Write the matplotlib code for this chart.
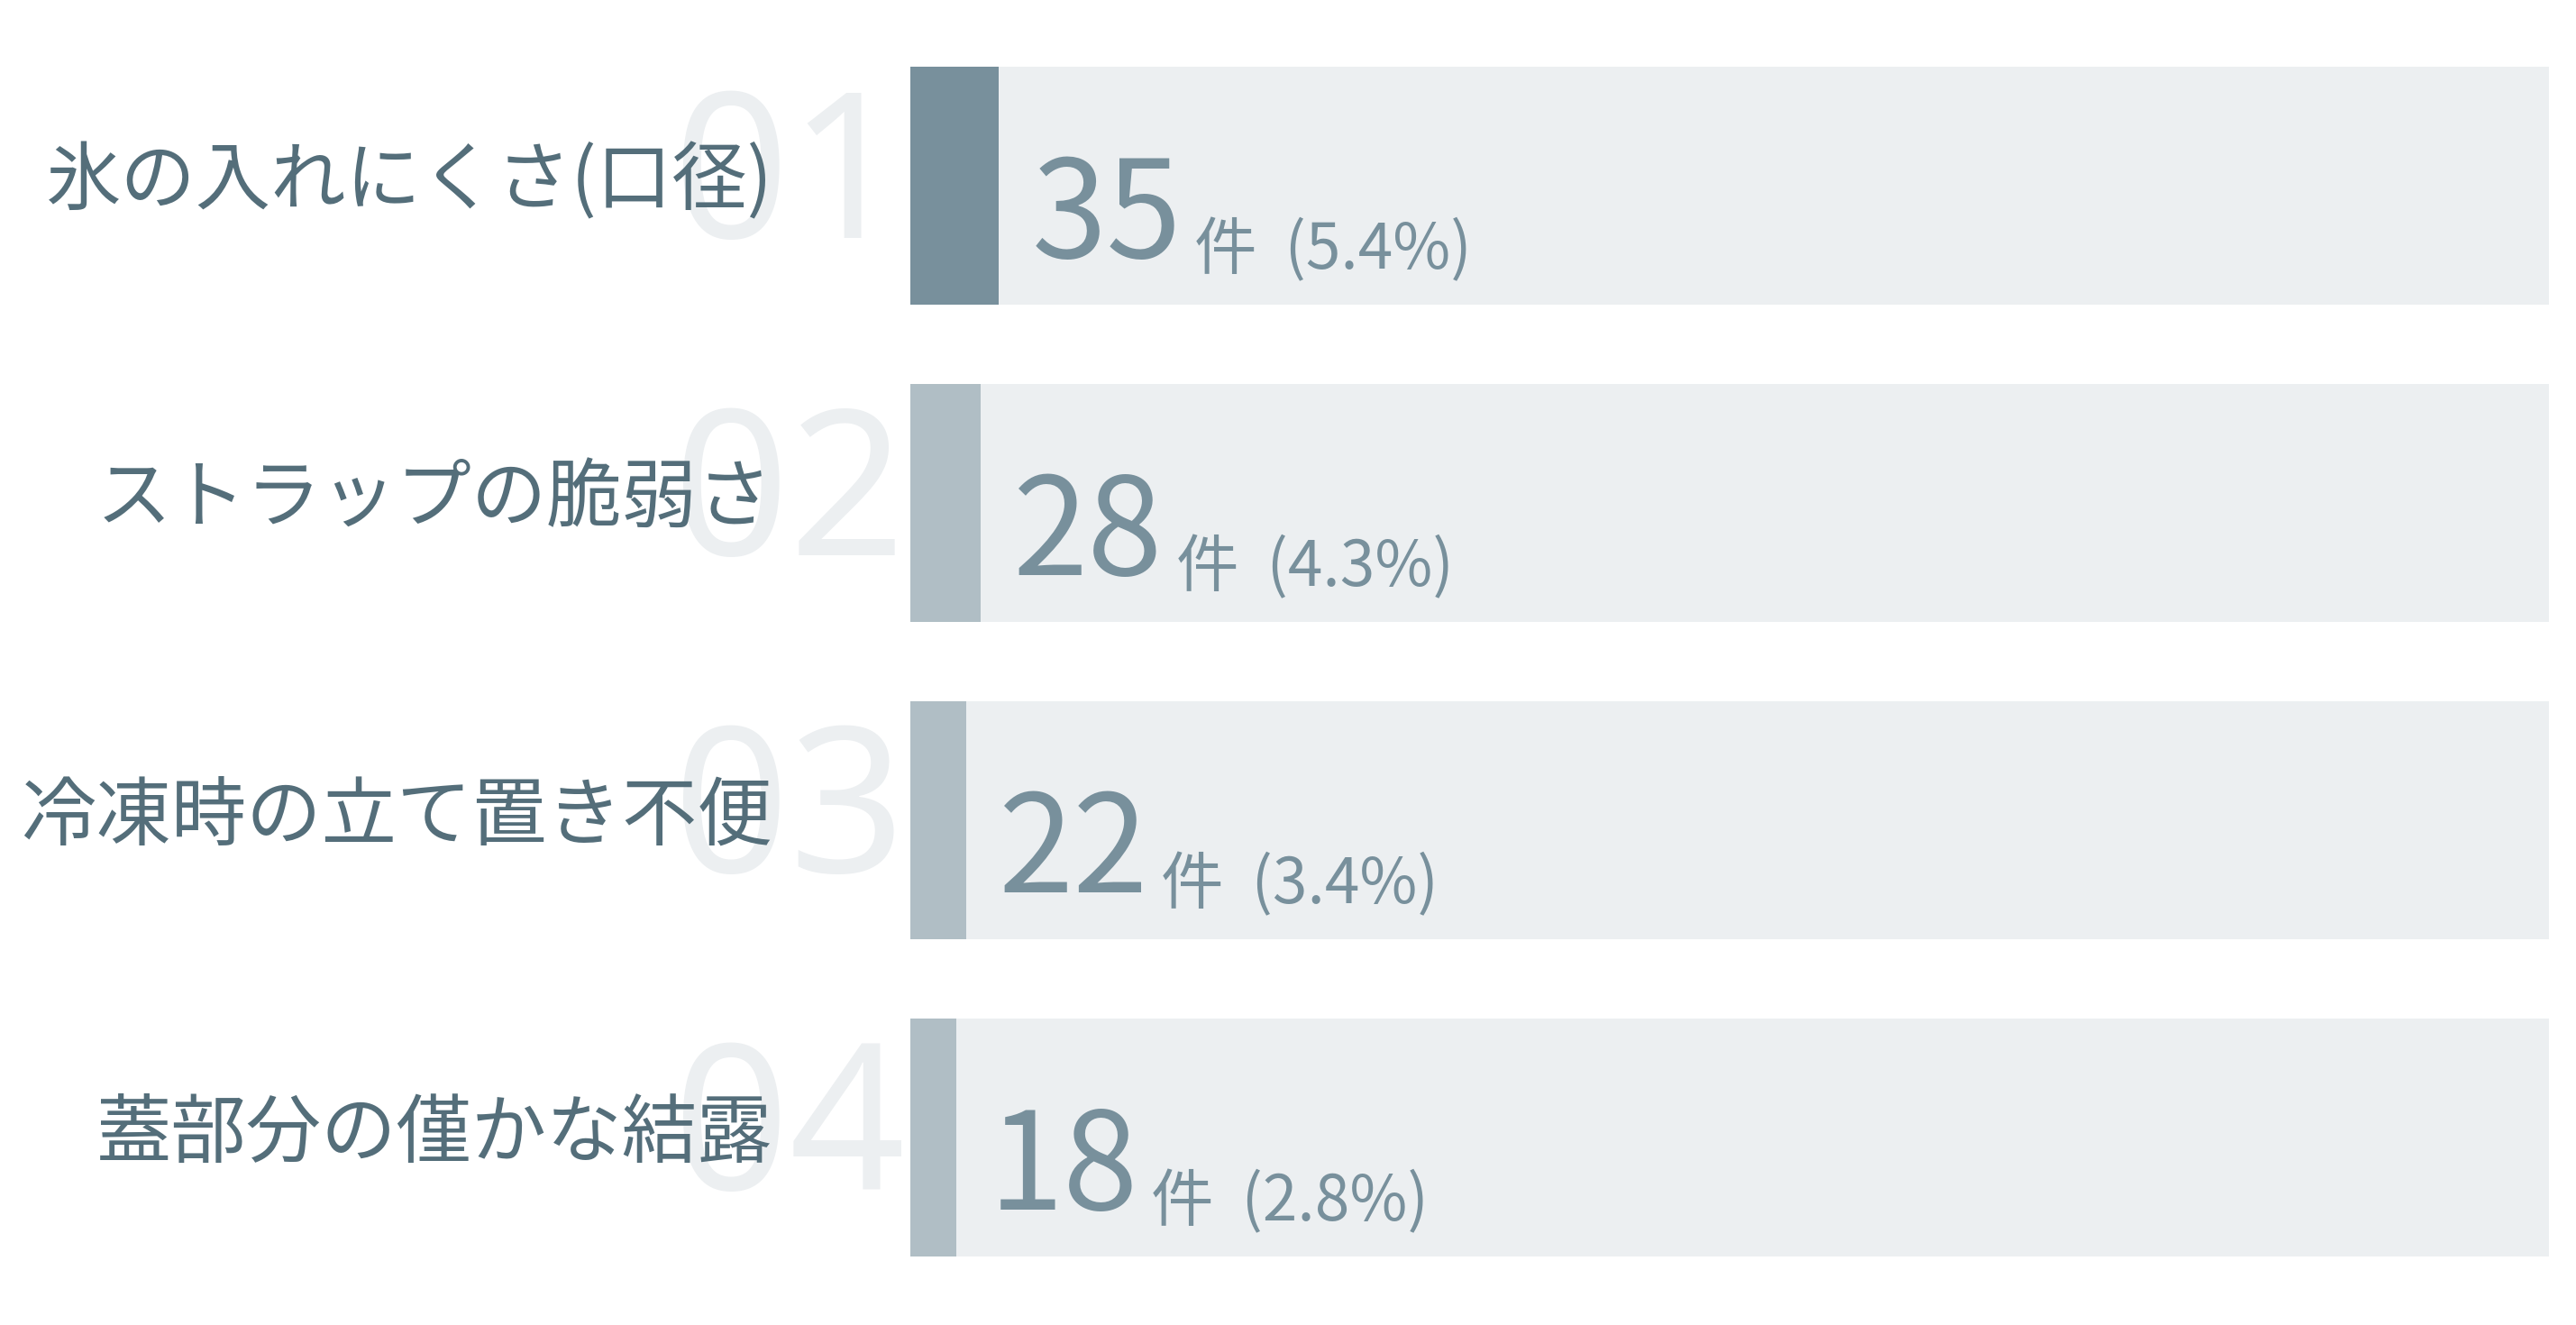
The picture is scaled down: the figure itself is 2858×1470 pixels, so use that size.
import matplotlib
matplotlib.use("Agg")
import matplotlib.pyplot as plt
import matplotlib.transforms as mtransforms

# data
labels = ["氷の入れにくさ(口径)", "ストラップの脆弱さ", "冷凍時の立て置き不便", "蓋部分の僅かな結露"]
ranks = ["01", "02", "03", "04"]
counts = [35, 28, 22, 18]
shares = [5.4, 4.3, 3.4, 2.8]
track_max = 100

LABEL_COLOR = "#546e7a"
VALUE_COLOR = "#78909c"
TRACK_COLOR = "#eceff1"
GHOST_COLOR = "#eceff1"
bar_colors = ["#78909c", "#b0bec5", "#b0bec5", "#b0bec5"]

plt.rcParams['font.family'] = ['Noto Sans CJK JP', 'DejaVu Sans']

W, H, DPI = 2858, 1470, 200
fig = plt.figure(figsize=(W / DPI, H / DPI), dpi=DPI)
fig.patch.set_facecolor("white")

# axes spans the grey tracks only; labels live outside it
ax = fig.add_axes([1010 / W, 76 / H, 1818 / W, 1320 / H])
rows = list(range(len(labels)))
bar_h = 0.75

ax.barh(rows, [track_max] * len(rows), height=bar_h, color=TRACK_COLOR, zorder=1)
ax.barh(rows, shares, height=bar_h, color=bar_colors, zorder=2)
ax.set_xlim(0, track_max)
ax.set_ylim(len(rows) - 1 + bar_h / 2, -bar_h / 2)
ax.axis("off")

ytrans = ax.get_yaxis_transform()

big_texts = []
for i in rows:
    # big faint rank number behind the label
    ax.text(-0.003, i + 0.165, ranks[i], transform=ytrans, ha="right", va="baseline",
            fontsize=81, color=GHOST_COLOR, family=["Noto Sans", "DejaVu Sans"],
            fontweight="light", zorder=0, clip_on=False)
    ax.text(-0.084, i - 0.01, labels[i], transform=ytrans, ha="right", va="center",
            fontsize=30, color=LABEL_COLOR, zorder=3, clip_on=False)
    t = ax.annotate(str(counts[i]), xy=(shares[i], i + 0.227), xytext=(13, 0),
                    textcoords="offset points", ha="left", va="baseline",
                    fontsize=54, color=VALUE_COLOR, zorder=4)
    big_texts.append(t)

# the small suffix follows the big number, so measure it first
fig.canvas.draw()
renderer = fig.canvas.get_renderer()
pix_y = mtransforms.blended_transform_factory(mtransforms.IdentityTransform(), ax.transData)
for i, t in zip(rows, big_texts):
    bb = t.get_window_extent(renderer)
    ax.text(bb.x1 + 14, i + 0.262, f"件  ({shares[i]}%)", transform=pix_y,
            ha="left", va="baseline", fontsize=25, color=VALUE_COLOR, zorder=4)

fig.savefig("out.png", dpi=DPI, facecolor="white")
